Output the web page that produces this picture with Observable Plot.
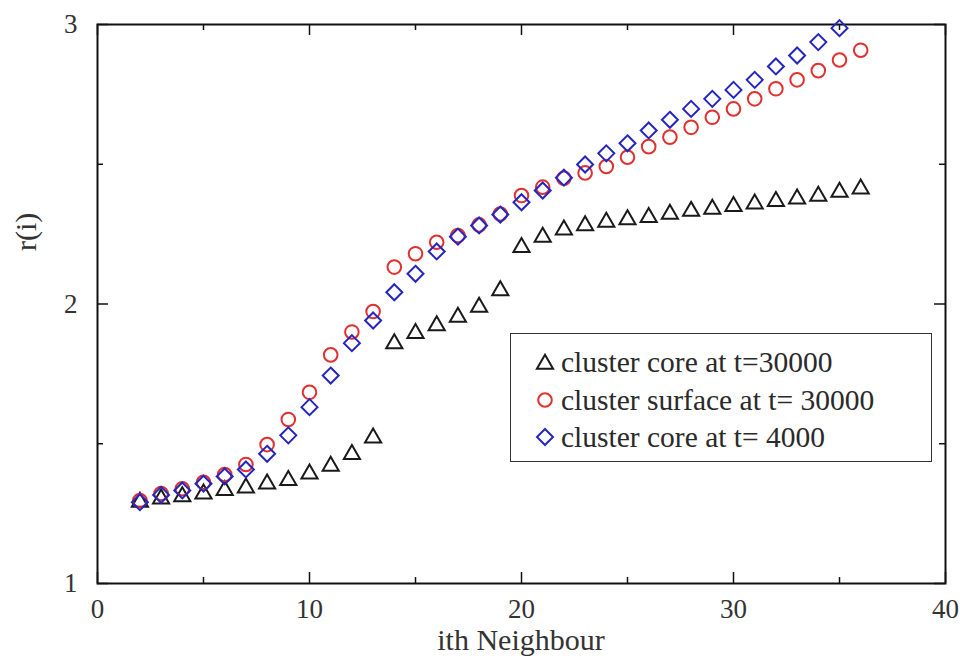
<!DOCTYPE html>
<html><head><meta charset="utf-8">
<script src="https://cdn.jsdelivr.net/npm/d3@7"></script>
<script src="https://cdn.jsdelivr.net/npm/@observablehq/plot@0.6"></script>
<style>
body{margin:0;background:#fff;}
#wrap{position:relative;width:960px;height:664px;overflow:hidden;}
#xlab{position:absolute;left:0;width:960px;padding-left:82px;box-sizing:border-box;text-align:center;top:623px;font-family:'Liberation Serif',serif;font-size:30px;line-height:34px;color:#333;}
#legend{position:absolute;left:510px;top:333px;width:422px;height:129px;box-sizing:border-box;border:1.5px solid #333;background:#fff;}
#legend .sym{position:absolute;left:22px;width:24px;height:24px;}
#legend .lab{position:absolute;left:50px;white-space:nowrap;font-family:'Liberation Serif',serif;font-size:29.5px;line-height:34px;color:#2a2a2a;}
</style></head><body><div id="wrap"></div>
<script>
// neighbour index i
const neighbours = [2,3,4,5,6,7,8,9,10,11,12,13,14,15,16,17,18,19,20,21,22,23,24,25,26,27,28,29,30,31,32,33,34,35,36];
// cluster core at t=30000 (i = 2..36)
const coreT30000 = [1.291,1.303,1.311,1.321,1.333,1.342,1.357,1.369,1.392,1.420,1.462,1.521,1.858,1.895,1.923,1.953,1.989,2.048,2.203,2.239,2.265,2.281,2.293,2.302,2.310,2.322,2.332,2.340,2.349,2.358,2.367,2.376,2.386,2.400,2.412];
// cluster surface at t=30000 (i = 2..36)
const surfaceT30000 = [1.297,1.322,1.339,1.362,1.390,1.426,1.497,1.587,1.684,1.818,1.900,1.973,2.132,2.180,2.221,2.245,2.283,2.322,2.388,2.418,2.450,2.469,2.492,2.525,2.563,2.597,2.632,2.668,2.698,2.734,2.770,2.802,2.835,2.873,2.908];
// cluster core at t=4000 (i = 2..35)
const coreT4000 = [1.291,1.317,1.333,1.357,1.383,1.408,1.464,1.530,1.631,1.744,1.860,1.941,2.042,2.108,2.188,2.241,2.281,2.320,2.364,2.406,2.452,2.499,2.539,2.575,2.621,2.659,2.698,2.734,2.766,2.802,2.850,2.889,2.937,2.987];

const seriesNames = ["cluster core at t=30000", "cluster surface at t= 30000", "cluster core at t= 4000"];
const seriesColors = ["#1a1a1a", "#e0302f", "#2525c0"];
const seriesSymbols = ["triangle", "circle", "diamond2"];

const xMajor = [0,10,20,30,40];
const xMinor = [5,15,25,35];
const yMajor = [1,2,3];
const yMinor = [1.5,2.5];
const xLabel = "ith Neighbour";
const yLabel = "r(i)";

const FONT = "Liberation Serif";
const W = 960, H = 664;
const mL = 97, mR = 15, mT = 24, mB = 81;
const pw = W - mL - mR, ph = H - mT - mB;

const toRows = (vals) => vals.map((v, k) => ({i: neighbours[k], r: v}));
const s1 = toRows(coreT30000), s2 = toRows(surfaceT30000), s3 = toRows(coreT4000);

const tickStyle = {stroke: "#111", strokeWidth: 1.5};
const chart = Plot.plot({
  width: W, height: H,
  marginLeft: mL, marginRight: mR, marginTop: mT, marginBottom: mB,
  style: {fontSize: "27px", color: "#333", background: "white"},
  x: {domain: [0, 40]},
  y: {domain: [1, 3]},
  marks: [
    // inward ticks on all four sides
    Plot.tickX(xMajor, {x: d => d, insetTop: ph - 11, ...tickStyle}),
    Plot.tickX(xMinor, {x: d => d, insetTop: ph - 6, ...tickStyle}),
    Plot.tickX(xMajor, {x: d => d, insetBottom: ph - 11, ...tickStyle}),
    Plot.tickX(xMinor, {x: d => d, insetBottom: ph - 6, ...tickStyle}),
    Plot.tickY(yMajor, {y: d => d, insetRight: pw - 11, ...tickStyle}),
    Plot.tickY(yMinor, {y: d => d, insetRight: pw - 6, ...tickStyle}),
    Plot.tickY(yMajor, {y: d => d, insetLeft: pw - 11, ...tickStyle}),
    Plot.tickY(yMinor, {y: d => d, insetLeft: pw - 6, ...tickStyle}),
    Plot.axisX(xMajor, {anchor: "bottom", tickSize: 0, tickPadding: 15, label: null, tickFormat: d => String(d), fontFamily: FONT}),
    Plot.axisY(yMajor, {anchor: "left", tickSize: 0, tickPadding: 20, label: null, tickFormat: d => String(d), fontFamily: FONT}),
    Plot.text([yLabel], {frameAnchor: "left", dx: -83, dy: -53, rotate: -90, lineAnchor: "top", fontSize: 30, fill: "#333", fontFamily: FONT}),
    Plot.frame({stroke: "#111", strokeWidth: 2}),
    Plot.dot(s1, {x: "i", y: "r", symbol: () => seriesSymbols[0], r: 6, stroke: seriesColors[0], strokeWidth: 2, fill: "none"}),
    Plot.dot(s2, {x: "i", y: "r", symbol: () => seriesSymbols[1], r: 6.8, stroke: seriesColors[1], strokeWidth: 2, fill: "none"}),
    Plot.dot(s3, {x: "i", y: "r", symbol: () => seriesSymbols[2], r: 7.2, stroke: seriesColors[2], strokeWidth: 2, fill: "none"})
  ]
});
const wrap = document.getElementById("wrap");
wrap.appendChild(chart);

// x-axis title
d3.select(wrap).append("div").attr("id", "xlab").text(xLabel);

// legend (HTML box inside the plot frame)
const lg = d3.select(wrap).append("div").attr("id", "legend");
const symMap = {triangle: d3.symbolTriangle, circle: d3.symbolCircle, diamond2: d3.symbolDiamond2};
const radii = [6, 6.8, 7.2];
seriesNames.forEach((name, k) => {
  const cy = 28 + k * 37.5;  // row centre inside the box
  const s = lg.append("svg").attr("class", "sym").attr("width", 24).attr("height", 24)
    .style("top", `${cy - 12}px`);
  s.append("path")
    .attr("transform", `translate(12,${12 + (k === 0 ? 2 : 0)})`)
    .attr("d", d3.symbol(symMap[seriesSymbols[k]], Math.PI * radii[k] * radii[k])())
    .attr("fill", "none").attr("stroke", seriesColors[k]).attr("stroke-width", 2);
  lg.append("div").attr("class", "lab").style("top", `${cy - 17}px`).text(name);
});
</script></body></html>
